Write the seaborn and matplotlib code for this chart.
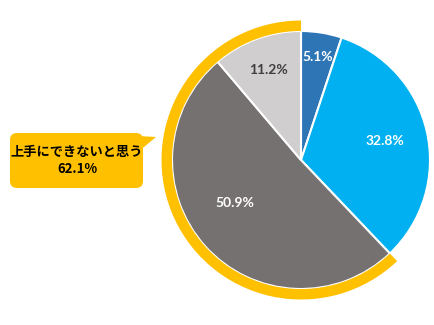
import matplotlib
matplotlib.use("Agg")
import matplotlib.pyplot as plt
import seaborn as sns
import numpy as np
from matplotlib.patches import Wedge, FancyBboxPatch, Polygon

sns.set_theme(style="white")
plt.rcParams['font.family'] = ['Noto Sans CJK JP', 'DejaVu Sans']

# Data
categories = ["A", "B", "C", "D"]
values = [5.1, 32.8, 50.9, 11.2]
labels = ["5.1%", "32.8%", "50.9%", "11.2%"]
colors = ["#2E75B6", "#00B0F0", "#767171", "#D0CECE"]
label_colors = ["white", "white", "white", "#404040"]
callout_title = "上手にできないと思う"
callout_value = "62.1%"
highlight_share = 62.1

# label placement (radius fraction, angle nudge in degrees)
label_radius = [0.81, 0.67, 0.61, 0.74]
label_nudge = [0, 0, -9, 0]

W, H = 434, 325
fig = plt.figure(figsize=(W / 100, H / 100), dpi=100)
ax = fig.add_axes([0, 0, 1, 1])

cx, cy = 301, H - 160
r = 129

wedges, texts = ax.pie(values, startangle=90, counterclock=False, colors=colors,
                       center=(cx, cy), radius=r,
                       wedgeprops=dict(edgecolor="white", linewidth=1.5),
                       labels=labels, labeldistance=0.62,
                       textprops=dict(fontsize=10, fontweight="bold", family="Lato"))
for w, t, c, rf, dn in zip(wedges, texts, label_colors, label_radius, label_nudge):
    mid = np.deg2rad((w.theta1 + w.theta2) / 2 + dn)
    t.set_position((cx + rf * r * np.cos(mid), cy + rf * r * np.sin(mid)))
    t.set_color(c)
    t.set_ha("center")
    t.set_va("center")

# Highlight ring over the last two slices (counter-clockwise from top)
ring = Wedge((cx, cy), r + 10.5, 90, 90 + highlight_share * 3.6, width=10.5,
             facecolor="#FFC000", edgecolor="none")
ax.add_patch(ring)

# Callout bubble
bx0, by0, bx1, by1 = 10, 133, 143, 188
box = FancyBboxPatch((bx0, H - by1), bx1 - bx0, by1 - by0,
                     boxstyle="round,pad=0,rounding_size=7",
                     facecolor="#FFC000", edgecolor="none")
ax.add_patch(box)
ax.add_patch(Polygon([(138, H - 136), (156, H - 137), (138, H - 152)],
                     closed=True, facecolor="#FFC000", edgecolor="none"))
ax.text(77, H - 152, callout_title, ha="center", va="center", fontsize=9.5,
        fontweight="bold", color="black")
ax.text(77, H - 169, callout_value, ha="center", va="center", fontsize=9.5,
        fontweight="bold", color="black")

ax.set_xlim(0, W)
ax.set_ylim(0, H)
ax.set_aspect("equal")
ax.axis("off")

fig.savefig("out.png", dpi=100)
